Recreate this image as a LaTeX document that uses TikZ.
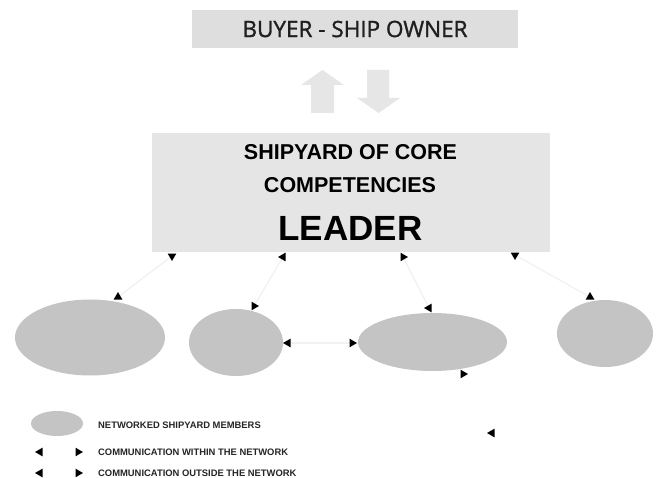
\documentclass[tikz,border=0pt]{standalone}
\usepackage{fontspec}
\setmainfont{Liberation Sans}
\newfontfamily\buyerfont[FakeBold=1.3]{Open Sans}
\usetikzlibrary{shapes.geometric}
\definecolor{boxA}{HTML}{DEDEDE}
\definecolor{boxB}{HTML}{E5E5E5}
\definecolor{memb}{HTML}{C4C4C4}
\definecolor{bigarr}{HTML}{E6E6E6}
\definecolor{faint}{HTML}{F1F1F1}
\tikzset{
  member/.style={ellipse, fill=memb, draw=none, inner sep=0pt},
  arrowtri/.style={isosceles triangle, isosceles triangle apex angle=60, fill=black, draw=none,
    inner sep=0pt, minimum height=7.5pt, minimum width=8pt, shape border rotate=#1},
  conn/.style={draw=faint, line width=1.2pt},
  legtext/.style={anchor=west, font=\bfseries\fontsize{9.4}{11}\selectfont, text=black!85, inner sep=0pt},
}
\begin{document}
\begin{tikzpicture}[x=1pt,y=-1pt]
\useasboundingbox[fill=white] (0,0) rectangle (658,478);
% boxes
\node[fill=boxA, minimum width=326pt, minimum height=38pt, inner sep=0pt,
  font=\buyerfont\fontsize{22.5}{26}\selectfont, text=black!88] (buyer) at (355,29) {BUYER - SHIP OWNER};
\node[fill=boxB, minimum width=398pt, minimum height=119pt, inner sep=0pt] (leader) at (351,192.5) {};
\node[font=\bfseries\fontsize{21.5}{24}\selectfont, inner sep=0pt] (t1) at (350.5,152) {SHIPYARD OF CORE};
\node[font=\bfseries\fontsize{21.5}{24}\selectfont, inner sep=0pt] (t2) at (350,185) {COMPETENCIES};
\node[font=\bfseries\fontsize{35}{40}\selectfont, inner sep=0pt] (t3) at (350.5,228) {LEADER};
% big up/down arrows
\fill[bigarr] (301,85) -- (322.5,70) -- (344,85) -- (334,85) -- (334,113) -- (311,113) -- (311,85) -- cycle;
\fill[bigarr] (367,70) -- (389,70) -- (389,98) -- (400,98) -- (378.5,113) -- (357,98) -- (367,98) -- cycle;
% members
\node[member, minimum width=150pt, minimum height=76pt] (m1) at (90,337.5) {};
\node[member, minimum width=94pt, minimum height=67pt] (m2) at (236,342.5) {};
\node[member, minimum width=149pt, minimum height=58pt] (m3) at (432.5,342) {};
\node[member, minimum width=96pt, minimum height=67pt] (m4) at (605,333.5) {};
% connector end points
\coordinate (a1) at (172,256);
\coordinate (b1) at (118,297);
\coordinate (a2) at (283,257);
\coordinate (b2) at (254,306);
\coordinate (a3) at (403,257);
\coordinate (b3) at (429,308);
\coordinate (a4) at (515,255);
\coordinate (b4) at (590,297);
\coordinate (a5) at (288,343);
\coordinate (b5) at (352,343);
\draw[conn] (a1) -- (b1);
\draw[conn] (a2) -- (b2);
\draw[conn] (a3) -- (b3);
\draw[conn] (a4) -- (b4);
\draw[conn] (a5) -- (b5);
% arrowheads
\node[arrowtri=-90] (h1) at (a1) {};
\node[arrowtri=65] (h2) at (b1) {};
\node[arrowtri=170] (h3) at (a2) {};
\node[arrowtri=0] (h4) at (b2) {};
\node[arrowtri=-10] (h5) at (a3) {};
\node[arrowtri=180] (h6) at (b3) {};
\node[arrowtri=-90] (h7) at (a4) {};
\node[arrowtri=90] (h8) at (b4) {};
\node[arrowtri=180] (h9) at (a5) {};
\node[arrowtri=0] (h10) at (b5) {};
\node[arrowtri=-10] (h11) at (463,374) {};
\node[arrowtri=180] (h12) at (492,433) {};
% legend
\node[member, minimum width=52pt, minimum height=25pt] (lg) at (57,423.5) {};
\node[legtext] (lt1) at (98,425) {NETWORKED SHIPYARD MEMBERS};
\node[arrowtri=180] (lh1) at (40,452) {};
\node[arrowtri=0] (lh2) at (78,452) {};
\node[legtext] (lt2) at (98,452.5) {COMMUNICATION WITHIN THE NETWORK};
\node[arrowtri=180] (lh3) at (40,473) {};
\node[arrowtri=0] (lh4) at (78,473) {};
\node[legtext] (lt3) at (98,472.8) {COMMUNICATION OUTSIDE THE NETWORK};
\end{tikzpicture}
\end{document}
